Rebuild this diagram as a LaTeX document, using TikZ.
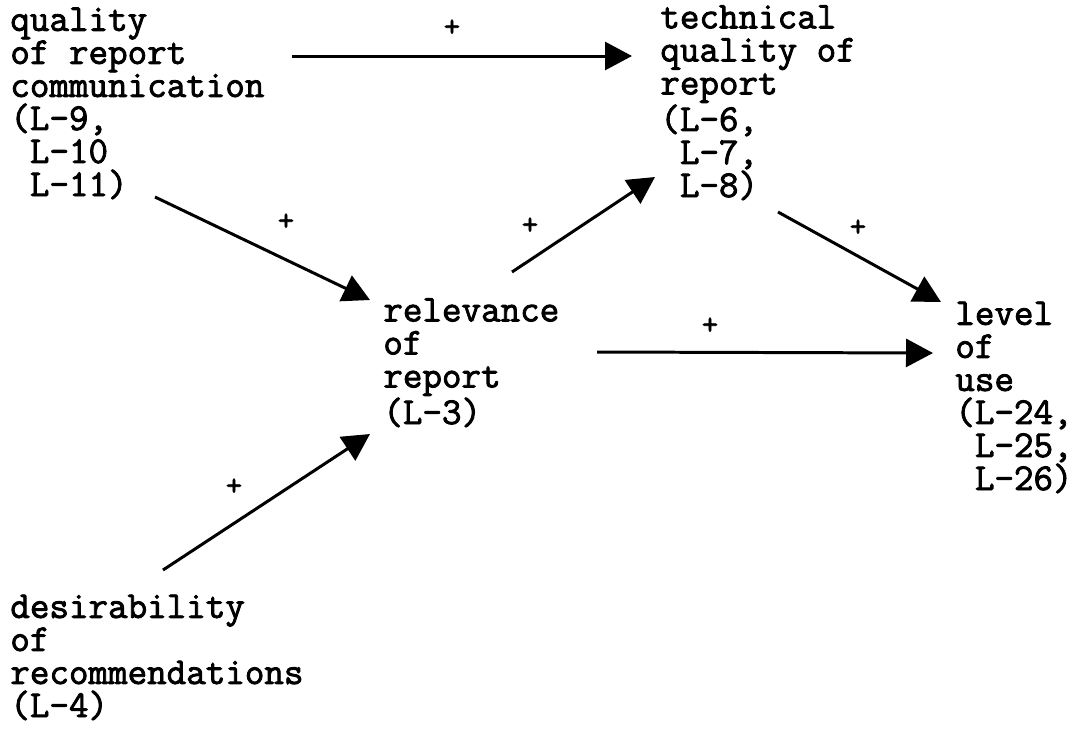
\documentclass[tikz,border=0pt]{standalone}
\usepackage{fontspec}
\newfontfamily\typewriter{Latin Modern Mono}[FakeBold=2.2]
\usetikzlibrary{arrows.meta}
\begin{document}
\begin{tikzpicture}[x=0.02cm,y=-0.02cm,
  lbl/.style={font=\typewriter\fontsize{21.6}{18.8}\selectfont, align=left, anchor=base west, inner sep=0},
  sign/.style={font=\typewriter\fontsize{18}{18}\selectfont, inner sep=0},
  arr/.style={line width=1.7pt, -{Triangle[length=0.54cm,width=0.56cm]}}]
\useasboundingbox (0,0) rectangle (1075,728);

% variables (anchored at the baseline of the last line)
\node[lbl] (qual) at (10,196)  {quality\\of report\\communication\\(L-9,\\~L-10\\~L-11)};
\node[lbl] (tech) at (660,197) {technical\\quality of\\report\\(L-6,\\~L-7,\\~L-8)};
\node[lbl] (rel)  at (383,424) {relevance\\of\\report\\(L-3)};
\node[lbl] (lev)  at (955,490) {level\\of\\use\\(L-24,\\~L-25,\\~L-26)};
\node[lbl] (des)  at (10,717) {desirability\\of\\recommendations\\(L-4)};

% arrow ports
\coordinate (qual-r) at (292,56);
\coordinate (tech-l) at (632,56);
\coordinate (qual-d) at (155,197);
\coordinate (rel-ul) at (370,300);
\coordinate (rel-ur) at (512,272);
\coordinate (tech-ll) at (655,177);
\coordinate (tech-d) at (778,212);
\coordinate (lev-ul) at (941,302);
\coordinate (rel-r) at (597,352);
\coordinate (lev-l) at (933,353);
\coordinate (des-u) at (163,570);
\coordinate (rel-ll) at (370,434);

% causal links
\draw[arr] (qual-r) -- (tech-l);
\draw[arr] (qual-d) -- (rel-ul);
\draw[arr] (rel-ur) -- (tech-ll);
\draw[arr] (tech-d) -- (lev-ul);
\draw[arr] (rel-r) -- (lev-l);
\draw[arr] (des-u) -- (rel-ll);

% signs
\node[sign] (s1) at (452,28) {+};
\node[sign] (s2) at (286,222) {+};
\node[sign] (s3) at (530,226) {+};
\node[sign] (s4) at (858,228) {+};
\node[sign] (s5) at (710,326) {+};
\node[sign] (s6) at (234,487) {+};
\end{tikzpicture}
\end{document}
